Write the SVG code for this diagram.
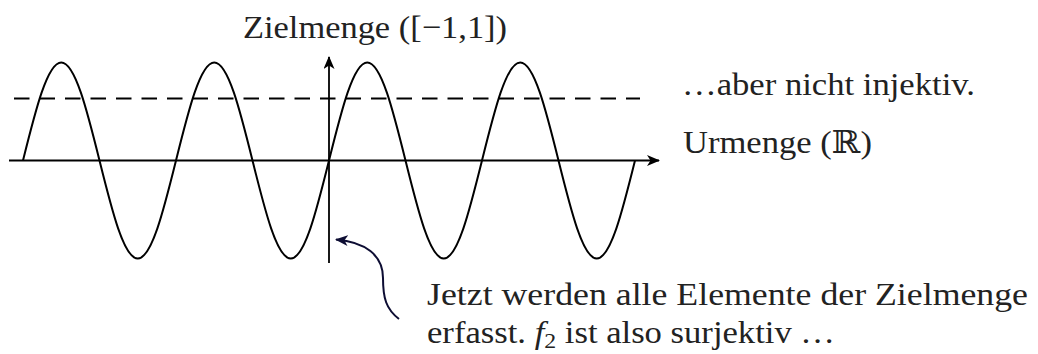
<svg xmlns="http://www.w3.org/2000/svg" width="1038" height="354" viewBox="0 0 1038 354">
  <style>
    .lbl { font-family: "Liberation Serif", "DejaVu Serif", serif; font-size: 32px; fill: #222; }
    .curve { fill: none; stroke: #000; stroke-width: 2; stroke-linejoin: round; }
    .axis { fill: none; stroke: #000; stroke-width: 1.8; }
  </style>
  <defs>
    <marker id="arr" viewBox="0 0 13 11" refX="12" refY="5.5" markerWidth="13" markerHeight="11" markerUnits="userSpaceOnUse" orient="auto">
      <path d="M0,0 L13,5.5 L0,11 L3.5,5.5 Z" fill="#000"/>
    </marker>
    <marker id="arrNavy" viewBox="0 0 13 11" refX="12" refY="5.5" markerWidth="13" markerHeight="11" markerUnits="userSpaceOnUse" orient="auto">
      <path d="M0,0 L13,5.5 L0,11 L3.5,5.5 Z" fill="#0d0d33"/>
    </marker>
  </defs>
  <rect width="1038" height="354" fill="#fff"/>

  <g id="dashed-level">
    <line x1="14" y1="98.5" x2="640" y2="98.5" stroke="#000" stroke-width="2" stroke-dasharray="15.5 10"/>
  </g>

  <g id="sine">
    <path class="curve" d="M23,160.5
      c12.47,-50.2 24.41,-98 38.25,-98 c13.84,0 25.78,47.8 38.25,98 c12.47,50.2 24.41,98 38.25,98 c13.84,0 25.78,-47.8 38.25,-98
      c12.47,-50.2 24.41,-98 38.25,-98 c13.84,0 25.78,47.8 38.25,98 c12.47,50.2 24.41,98 38.25,98 c13.84,0 25.78,-47.8 38.25,-98
      c12.47,-50.2 24.41,-98 38.25,-98 c13.84,0 25.78,47.8 38.25,98 c12.47,50.2 24.41,98 38.25,98 c13.84,0 25.78,-47.8 38.25,-98
      c12.47,-50.2 24.41,-98 38.25,-98 c13.84,0 25.78,47.8 38.25,98 c12.47,50.2 24.41,98 38.25,98 c13.84,0 25.78,-47.8 38.25,-98"/>
  </g>

  <g id="connectors">
    <line id="x-axis" class="axis" x1="9" y1="160.5" x2="659" y2="160.5" marker-end="url(#arr)"/>
    <line id="y-axis" class="axis" x1="329" y1="263" x2="329" y2="57" marker-end="url(#arr)"/>
    <path id="note-arrow" d="M399,319 C386,309 383,298 383,278 C383,255 365,242 336,239.5" fill="none" stroke="#0d0d33" stroke-width="2" marker-end="url(#arrNavy)"/>
  </g>

  <g id="label-zielmenge">
    <text class="lbl" x="243" y="38" textLength="264" lengthAdjust="spacingAndGlyphs">Zielmenge ([−1,1])</text>
  </g>
  <g id="label-injektiv">
    <text class="lbl" x="682" y="95" textLength="293" lengthAdjust="spacingAndGlyphs">…aber nicht injektiv.</text>
  </g>
  <g id="label-urmenge">
    <text class="lbl" x="683" y="153" textLength="189" lengthAdjust="spacingAndGlyphs">Urmenge (ℝ)</text>
  </g>
  <g id="label-note">
    <text class="lbl" x="427" y="305" textLength="601" lengthAdjust="spacingAndGlyphs">Jetzt werden alle Elemente der Zielmenge</text>
    <text class="lbl" x="427" y="343" textLength="408" lengthAdjust="spacingAndGlyphs">erfasst. <tspan font-style="italic">f</tspan><tspan font-size="22" dy="5">2</tspan><tspan dy="-5"> ist also surjektiv …</tspan></text>
  </g>
</svg>
